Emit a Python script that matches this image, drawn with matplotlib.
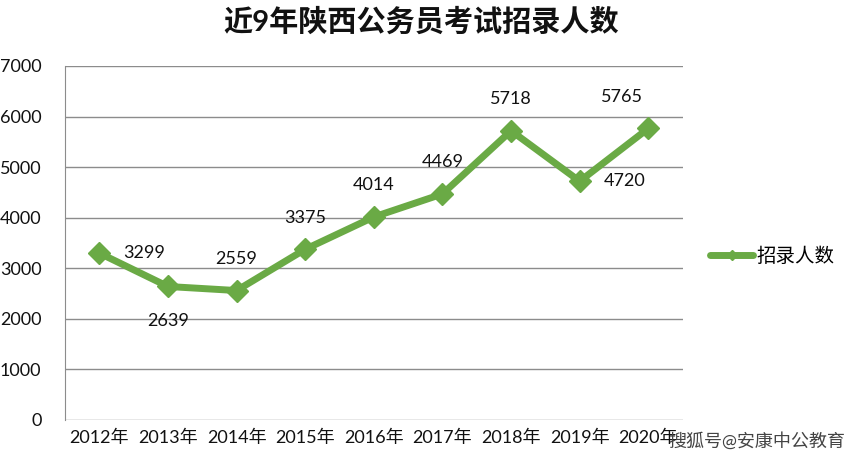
import matplotlib
matplotlib.use("Agg")
from matplotlib import pyplot as plt

plt.rcParams['font.family'] = ['Lato', 'Noto Sans CJK SC', 'DejaVu Sans']

# chart data
years = ['2012年', '2013年', '2014年', '2015年', '2016年', '2017年', '2018年', '2019年', '2020年']
recruits = [3299, 2639, 2559, 3375, 4014, 4469, 5718, 4720, 5765]
# where each data label sits relative to its point
labelPos = ['right', 'below', 'above', 'above', 'above', 'above', 'above', 'right', 'aboveleft']

green = '#6aaa45'

fig = plt.figure(figsize=(8.48, 4.61), dpi=100)
ax = fig.add_axes([0.0767, 0.089, 0.7283, 0.768])

x = list(range(len(years)))
ax.plot(x, recruits, color=green, linewidth=5, marker='D', markersize=11,
        solid_joinstyle='round', solid_capstyle='round', label='招录人数', zorder=3)

for i, v in enumerate(recruits):
    pos = labelPos[i]
    if pos == 'right':
        off, ha, va = (17, 0), 'left', 'center'
    elif pos == 'below':
        off, ha, va = (0, -19), 'center', 'top'
    elif pos == 'aboveleft':
        off, ha, va = (-19, 17), 'center', 'bottom'
    else:
        off, ha, va = (0, 17), 'center', 'bottom'
    ax.annotate(str(v), (i, v), xytext=off, textcoords='offset points',
                ha=ha, va=va, fontsize=13, color='#111111')

ax.set_xlim(-0.5, len(years) - 0.5)
ax.set_ylim(0, 7000)
ax.set_yticks(range(0, 7001, 1000))
ax.set_xticks(x)
ax.set_xticklabels(years, fontsize=13, color='#111111')
ax.tick_params(axis='y', labelsize=13, colors='#111111', length=0, pad=17)
ax.tick_params(axis='x', length=0, pad=7)
ax.grid(axis='y', color='#8c8c8c', linewidth=1)
ax.set_axisbelow(True)
for s in ['top', 'right', 'bottom']:
    ax.spines[s].set_visible(False)
ax.spines['left'].set_color('#8c8c8c')

fig.text(0.497, 0.953, '近9年陕西公务员考试招录人数', ha='center', va='center',
         fontsize=21, fontweight='bold', color='#111111')

ax.legend(loc='center left', bbox_to_anchor=(1.045, 0.465), frameon=False,
          fontsize=14, handlelength=2.2, handletextpad=0.15, markerscale=0.45,
          borderaxespad=0, borderpad=0)

fig.text(0.997, 0.043, '搜狐号@安康中公教育', ha='right', va='center',
         fontsize=13, color='#444444')

fig.savefig('out.png', dpi=100, facecolor='white')
